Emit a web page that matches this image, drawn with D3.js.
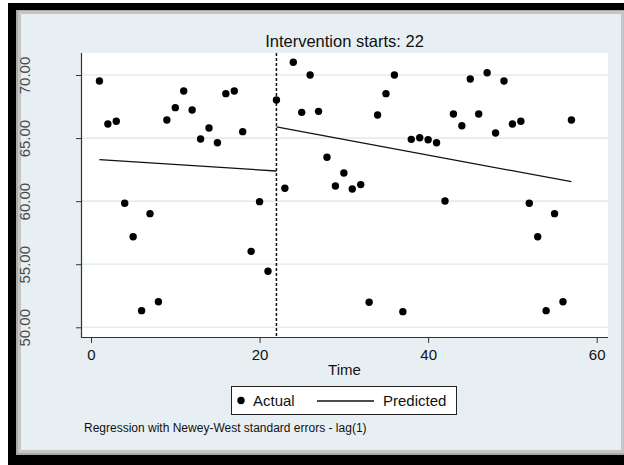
<!DOCTYPE html>
<html>
<head>
<meta charset="utf-8">
<script src="https://cdn.jsdelivr.net/npm/d3@7"></script>
<style>
  html, body { margin: 0; padding: 0; background: #ffffff; }
  svg { display: block; }
  text { font-family: Arial, "Liberation Sans", Helvetica, sans-serif; }
</style>
</head>
<body>
<svg id="chart" width="624" height="465"></svg>
<script>
// ---- data ----
const title = "Intervention starts: 22";
const xTitle = "Time";
const note = "Regression with Newey-West standard errors - lag(1)";
const interventionTime = 22;
const xTicks = [0, 20, 40, 60];
const yTicks = [50, 55, 60, 65, 70];
const time = [1,2,3,4,5,6,7,8,9,10,11,12,13,14,15,16,17,18,19,20,21,22,23,24,25,26,27,28,29,
  30,31,32,33,34,35,36,37,38,39,40,41,42,43,44,45,46,47,48,49,50,51,52,53,54,55,56,57];
const actual = [69.52, 66.12, 66.33, 59.83, 57.18, 51.32, 59.01, 52.03, 66.43, 67.41,
  68.73, 67.23, 64.93, 65.80, 64.63, 68.52, 68.73, 65.51, 56.02, 59.96,
  54.44, 68.02, 61.02, 71.01, 67.04, 70.00, 67.12, 63.48, 61.20, 62.23,
  60.96, 61.31, 51.98, 66.83, 68.52, 70.00, 51.24, 64.90, 65.03, 64.87,
  64.63, 60.01, 66.91, 65.98, 69.68, 66.91, 70.18, 65.40, 69.52, 66.12,
  66.33, 59.83, 57.18, 51.32, 59.01, 52.03, 66.43];
const preTime = [1, 22];
const prePredicted = [63.29, 62.39];
const postTime = [22, 57];
const postPredicted = [65.88, 61.54];
const legendLabels = ["Actual", "Predicted"];

// ---- layout ----
const svg = d3.select("#chart");
const plot = { left: 81, right: 608, top: 53, bottom: 337 };
const x = d3.scaleLinear().domain([0, 60]).range([91, 596.7]);
const y = d3.scaleLinear().domain([50, 70]).range([327.3, 75]);

// frame
svg.append("rect").attr("x", 8).attr("y", 3).attr("width", 616).attr("height", 462).attr("fill", "#000");
svg.append("rect").attr("x", 16).attr("y", 10).attr("width", 608).attr("height", 445).attr("fill", "#a9a9a9");
svg.append("rect").attr("x", 18).attr("y", 11).attr("width", 606).attr("height", 442).attr("fill", "#c4c6c7");
svg.append("rect").attr("x", 21).attr("y", 14).attr("width", 600).attr("height", 436).attr("fill", "#e8eff2");

// plot region
svg.append("rect")
  .attr("x", plot.left).attr("y", plot.top)
  .attr("width", plot.right - plot.left).attr("height", plot.bottom - plot.top)
  .attr("fill", "#ffffff");

// gridlines
svg.append("g").selectAll("line").data(yTicks).join("line")
  .attr("x1", plot.left).attr("x2", plot.right)
  .attr("y1", d => y(d)).attr("y2", d => y(d))
  .attr("stroke", "#e3ecef").attr("stroke-width", 1.6);

// y axis
const yAxis = svg.append("g").attr("transform", `translate(${plot.left},0)`)
  .call(d3.axisLeft(y).tickValues(yTicks).tickSize(5).tickFormat(d3.format(".2f")));
yAxis.select(".domain").attr("d", `M0.5,${plot.top}V${plot.bottom}`).attr("stroke", "#333").attr("stroke-width", 1.2);
yAxis.selectAll(".tick line").attr("stroke", "#333");
yAxis.selectAll(".tick text")
  .attr("x", null).attr("dy", null)
  .attr("transform", "translate(-57,0) rotate(-90)")
  .attr("text-anchor", "middle").attr("dominant-baseline", "central")
  .attr("font-size", 15).attr("fill", "#4a4a4a")
  .attr("font-family", "Arial, 'Liberation Sans', sans-serif");

// x axis
const xAxis = svg.append("g").attr("transform", `translate(0,${plot.bottom})`)
  .call(d3.axisBottom(x).tickValues(xTicks).tickSize(6).tickFormat(d3.format("d")));
xAxis.select(".domain").attr("d", `M${plot.left},0.5H${plot.right}`).attr("stroke", "#333").attr("stroke-width", 1.2);
xAxis.selectAll(".tick line").attr("stroke", "#333");
xAxis.selectAll(".tick text")
  .attr("y", 12).attr("dy", "0.71em")
  .attr("font-size", 15).attr("fill", "#111")
  .attr("font-family", "Arial, 'Liberation Sans', sans-serif");

// x title
svg.append("text").attr("x", (plot.left + plot.right) / 2).attr("y", 375)
  .attr("text-anchor", "middle").attr("font-size", 15).attr("fill", "#111").text(xTitle);

// title
svg.append("text").attr("x", (plot.left + plot.right) / 2).attr("y", 47)
  .attr("text-anchor", "middle").attr("font-size", 16.5).attr("fill", "#111").text(title);

// intervention line
svg.append("line")
  .attr("x1", x(interventionTime)).attr("x2", x(interventionTime))
  .attr("y1", plot.top).attr("y2", plot.bottom)
  .attr("stroke", "#111").attr("stroke-width", 1.5).attr("stroke-dasharray", "3,2");

// predicted lines
const line = d3.line().x(d => x(d[0])).y(d => y(d[1]));
svg.append("path").datum(preTime.map((t, i) => [t, prePredicted[i]]))
  .attr("d", line).attr("fill", "none").attr("stroke", "#111").attr("stroke-width", 1.3);
svg.append("path").datum(postTime.map((t, i) => [t, postPredicted[i]]))
  .attr("d", line).attr("fill", "none").attr("stroke", "#111").attr("stroke-width", 1.3);

// actual points
svg.append("g").selectAll("circle").data(time.map((t, i) => [t, actual[i]])).join("circle")
  .attr("cx", d => x(d[0])).attr("cy", d => y(d[1])).attr("r", 3.7).attr("fill", "#000");

// legend
const lg = svg.append("g");
lg.append("rect").attr("x", 231.5).attr("y", 386.5).attr("width", 225).attr("height", 28)
  .attr("fill", "#fff").attr("stroke", "#222").attr("stroke-width", 1);
lg.append("circle").attr("cx", 241).attr("cy", 400.5).attr("r", 3.7).attr("fill", "#000");
lg.append("text").attr("x", 253).attr("y", 406).attr("font-size", 15).attr("fill", "#111").text(legendLabels[0]);
lg.append("line").attr("x1", 317).attr("x2", 374).attr("y1", 401).attr("y2", 401)
  .attr("stroke", "#111").attr("stroke-width", 1.3);
lg.append("text").attr("x", 383).attr("y", 406).attr("font-size", 15).attr("fill", "#111").text(legendLabels[1]);

// note
svg.append("text").attr("x", 84).attr("y", 432).attr("font-size", 12).attr("fill", "#111").text(note);
</script>
</body>
</html>
